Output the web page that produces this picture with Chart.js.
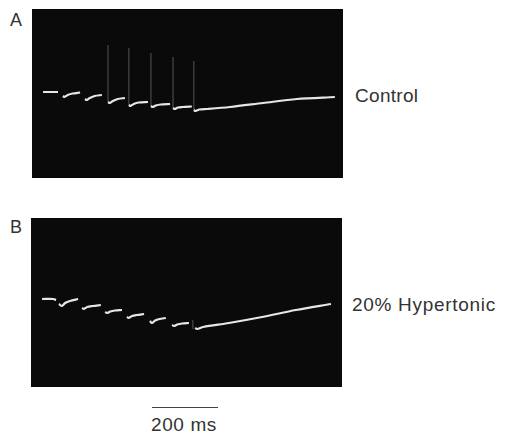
<!DOCTYPE html>
<html>
<head>
<meta charset="utf-8">
<script src="https://cdn.jsdelivr.net/npm/chart.js@4/dist/chart.umd.min.js"></script>
<style>
  body { margin: 0; background: #fff; width: 511px; height: 431px; position: relative; overflow: hidden;
         font-family: "Liberation Sans", Arial, sans-serif; color: #333; }
  .panel { position: absolute; background: #0a0a0a; }
  .lbl { position: absolute; font-size: 18px; line-height: 18px; white-space: nowrap; }
  #bar { position: absolute; left: 152px; top: 407px; width: 66px; height: 0; border-top: 1.5px solid #444; }
</style>
</head>
<body>
  <div class="lbl" style="left:10px;top:11px;">A</div>
  <div class="panel" style="left:32px;top:9px;width:311px;height:169px;"><canvas id="ChartA"></canvas></div>
  <div class="lbl" style="left:355px;top:87px;font-size:19px;letter-spacing:0.3px;">Control</div>

  <div class="lbl" style="left:10px;top:218px;">B</div>
  <div class="panel" style="left:31px;top:218px;width:311px;height:169px;"><canvas id="ChartB"></canvas></div>
  <div class="lbl" style="left:352px;top:296px;font-size:19px;letter-spacing:0.7px;">20% Hypertonic</div>

  <div id="bar"></div>
  <div class="lbl" style="left:151px;top:416px;font-size:19px;letter-spacing:0.6px;">200 ms</div>

<script>
  // time in ms, membrane potential in arbitrary units (0 = resting level, negative = down)
  // null points break the trace where the fast jumps are not visible on the screen

  // CONTROL
  const controlTime = [
    34, 80, null,
    95, 100, 110, 125, 148, null,
    163, 168, 178, 193, 215, null,
    234, 239, 249, 264, 286, null,
    298, 303, 313, 328, 357, null,
    366, 371, 381, 396, 425, null,
    434, 439, 449, 464, 492, null,
    498, 503, 515, 540, 609, 711, 815, 932
  ];
  const controlV = [
    0, 0, null,
    -4, -5, -3, -1.5, -0.5, null,
    -7, -8, -6, -4, -3, null,
    -10, -11, -9, -7, -6, null,
    -13, -14, -12, -10.5, -10, null,
    -14, -15, -13.5, -12.5, -12, null,
    -16, -17, -15.5, -15, -14.5, null,
    -18, -19, -17.5, -17, -15, -11, -7, -5
  ];
  // faint upstrokes seen at each stimulus
  const controlSpikeTime = [234, 298, 366, 434, 498];
  const controlSpikeBase = [-10, -13, -14, -16, -18];
  const controlSpikeTop = [47, 44, 39, 35, 31];

  // 20% HYPERTONIC
  const hyperTime = [
    34, 68, 77, null,
    86, 95, 105, 120, 145, null,
    157, 163, 173, 190, 215, null,
    228, 234, 244, 258, 280, null,
    295, 301, 311, 325, 348, null,
    366, 372, 382, 395, 415, null,
    434, 440, 450, 465, 486, null,
    505, 511, 530, 609, 711, 815, 923
  ];
  const hyperV = [
    0, 0, -1, null,
    -5, -7, -4, -2, 0, null,
    -9, -10, -8, -7, -6, null,
    -13, -14, -12.5, -11.5, -11, null,
    -18, -19, -17, -16, -15, null,
    -22, -24, -21.5, -20, -19, null,
    -26, -27, -25.5, -24.5, -24, null,
    -29, -30, -28, -24, -18, -11, -5
  ];
  const hyperSpikeTime = [498];
  const hyperSpikeBase = [-30];
  const hyperSpikeTop = [-21];

  function points(t, v) {
    return t.map((x, i) => x === null ? { x: NaN, y: null } : { x: x, y: v[i] });
  }

  function spikes(t, base, top) {
    const pts = [];
    t.forEach((x, i) => {
      pts.push({ x: x, y: base[i] }, { x: x, y: top[i] }, { x: x, y: null });
    });
    return pts;
  }

  function makeChart(id, t, v, st, sb, stop, yMin, yMax) {
    return new Chart(document.getElementById(id), {
      type: 'line',
      data: {
        datasets: [{
          data: spikes(st, sb, stop),
          borderColor: 'rgba(220,220,220,0.3)',
          borderWidth: 1.2,
          pointRadius: 0,
          spanGaps: false
        }, {
          data: points(t, v),
          borderColor: '#e6e6e6',
          borderWidth: 2.2,
          pointRadius: 0,
          tension: 0.3,
          spanGaps: false
        }]
      },
      options: {
        responsive: true,
        maintainAspectRatio: false,
        animation: false,
        layout: { padding: 0 },
        plugins: { legend: { display: false }, tooltip: { enabled: false } },
        scales: {
          x: { type: 'linear', min: 0, max: 957, display: false },
          y: { min: yMin, max: yMax, display: false }
        }
      }
    });
  }

  const ChartA = makeChart('ChartA', controlTime, controlV, controlSpikeTime, controlSpikeBase, controlSpikeTop, -86, 83);
  const ChartB = makeChart('ChartB', hyperTime, hyperV, hyperSpikeTime, hyperSpikeBase, hyperSpikeTop, -88, 81);
</script>
</body>
</html>
